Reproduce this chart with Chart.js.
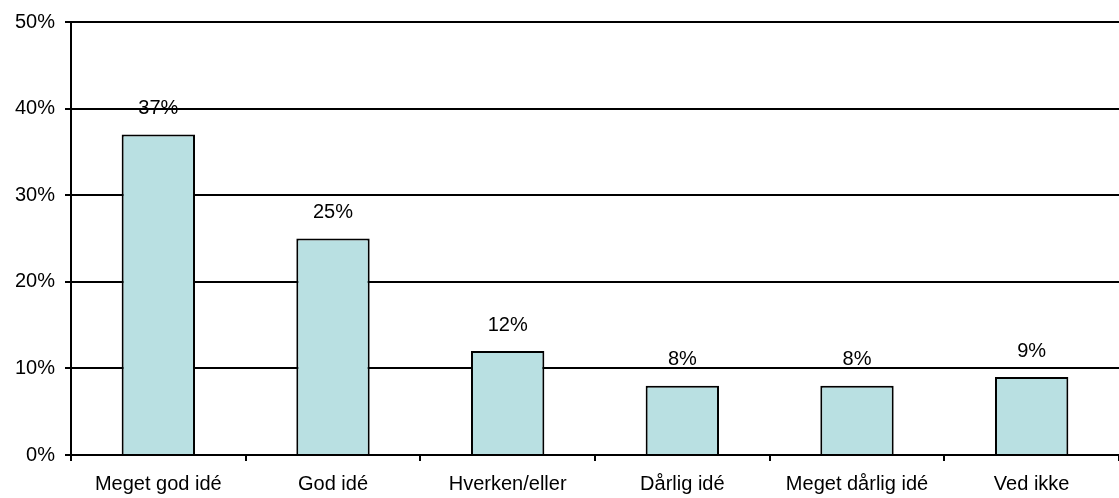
<!DOCTYPE html>
<html>
<head>
<meta charset="utf-8">
<script src="https://cdn.jsdelivr.net/npm/chart.js@4"></script>
<style>
  html, body { margin: 0; padding: 0; background: #fff; }
  #wrap { width: 1119px; height: 498px; }
</style>
</head>
<body>
<div id="wrap"><canvas id="c"></canvas></div>
<script>
const categories = ['Meget god idé', 'God idé', 'Hverken/eller', 'Dårlig idé', 'Meget dårlig idé', 'Ved ikke'];
const values = [37, 25, 12, 8, 8, 9];
const yTicks = [0, 10, 20, 30, 40, 50];

const valueLabels = {
    id: 'valueLabels',
    afterDatasetsDraw(chart) {
        const ctx = chart.ctx;
        const meta = chart.getDatasetMeta(0);
        ctx.save();
        ctx.font = '20px "Liberation Sans", Arial, sans-serif';
        ctx.fillStyle = '#000';
        ctx.textAlign = 'center';
        ctx.textBaseline = 'middle';
        meta.data.forEach((bar, i) => {
            ctx.fillText(values[i] + '%', bar.x, bar.y - 26);
        });
        ctx.restore();
    }
};

Chart.defaults.font.family = '"Liberation Sans", Arial, sans-serif';
Chart.defaults.font.size = 20;
Chart.defaults.color = '#000';

new Chart(document.getElementById('c'), {
    type: 'bar',
    data: {
        labels: categories,
        datasets: [{
            data: values,
            backgroundColor: 'rgb(185, 224, 226)',
            borderColor: '#000',
            borderWidth: 2,
            barPercentage: 0.42,
            categoryPercentage: 1
        }]
    },
    plugins: [valueLabels],
    options: {
        responsive: true,
        maintainAspectRatio: false,
        animation: false,
        layout: { padding: { top: 22, right: 0, left: 0, bottom: 0 } },
        plugins: {
            legend: { display: false },
            tooltip: { enabled: false }
        },
        scales: {
            x: {
                grid: {
                    drawOnChartArea: false,
                    drawTicks: true,
                    tickLength: 6,
                    color: '#000',
                    lineWidth: 2
                },
                border: { display: true, color: '#000', width: 2 },
                ticks: { padding: 11, maxRotation: 0, autoSkip: false },
                afterFit: (scale) => { scale.height = 43; }
            },
            y: {
                min: 0,
                max: 50,
                afterBuildTicks: (scale) => { scale.ticks = yTicks.map(v => ({ value: v })); },
                grid: {
                    color: '#000',
                    lineWidth: 2,
                    tickLength: 6
                },
                border: { display: true, color: '#000', width: 2 },
                ticks: {
                    padding: 10,
                    callback: (v) => v + '%'
                },
                afterFit: (scale) => { scale.width = 71; }
            }
        }
    }
});
</script>
</body>
</html>
